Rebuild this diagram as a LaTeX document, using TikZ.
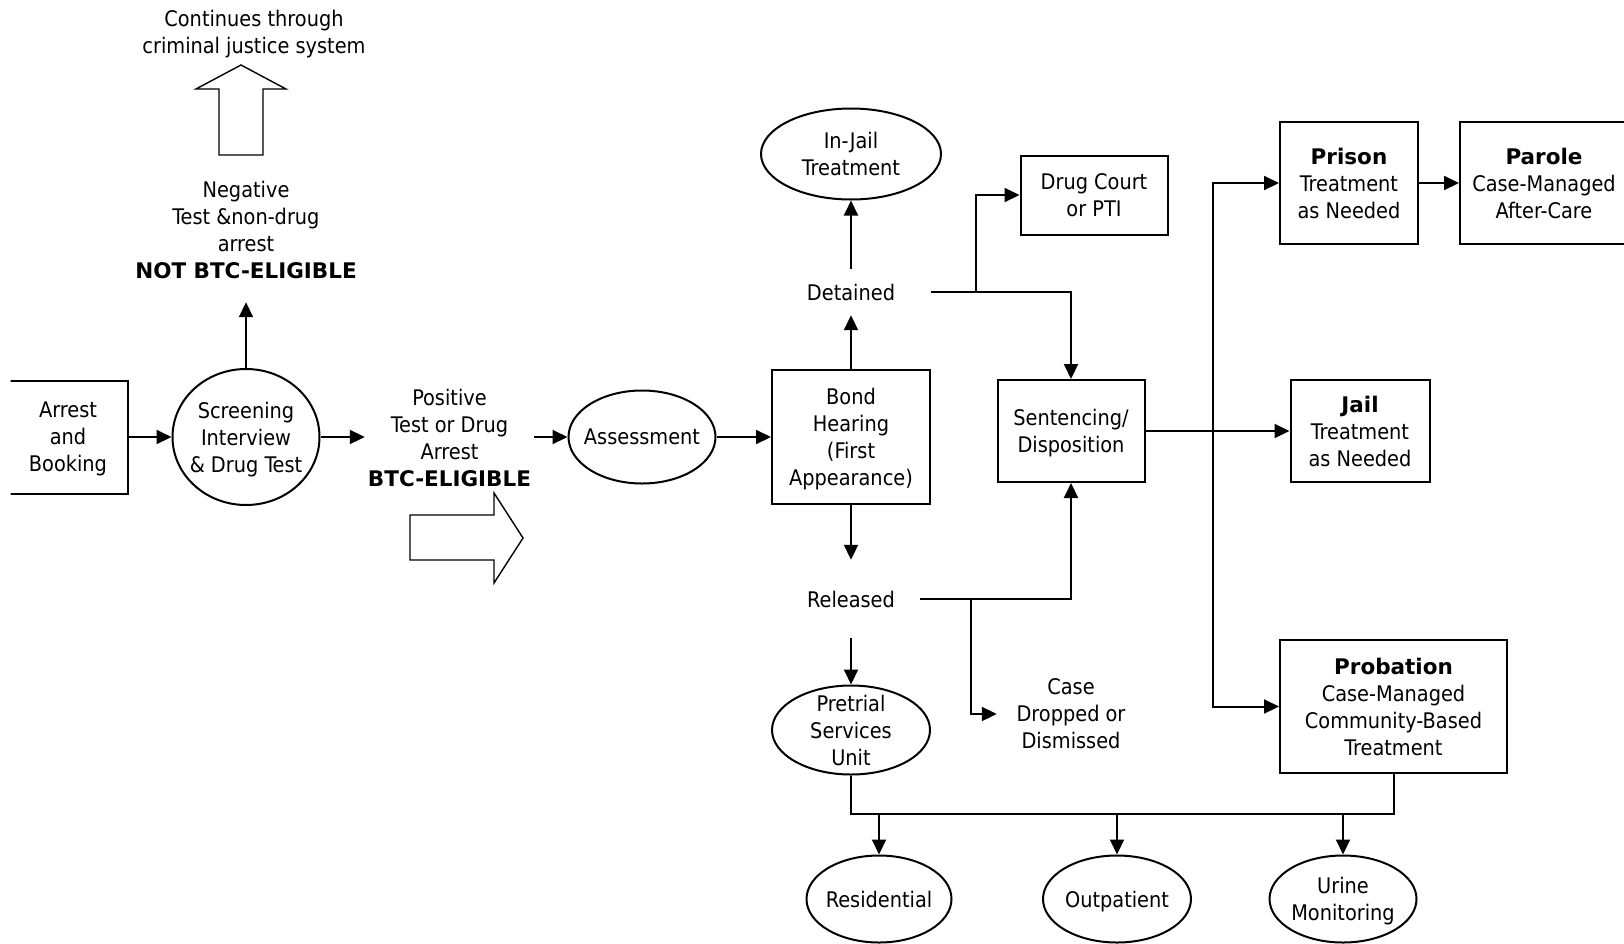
\documentclass[tikz,border=0pt]{standalone}
\usepackage{fontspec}
\setmainfont{DejaVu Sans Condensed}[BoldFont={DejaVu Sans Bold}]
\usepackage{tikz}
\usetikzlibrary{arrows.meta,positioning,calc,shapes.geometric}
\tikzset{
  >={Triangle[length=15pt,width=14pt]},
  box/.style={draw, line width=2pt, rectangle, align=center, inner sep=0pt, text depth=-1pt},
  oval/.style={draw, line width=2pt, ellipse, inner sep=0pt, label={[align=center, text depth=-1pt]center:#1}},
  note/.style={align=center, inner sep=0pt, text depth=-1pt},
  conn/.style={->, line width=2pt},
  wire/.style={line width=2pt},
  fatarrow/.style={draw, line width=1.4pt, line join=miter},
}

\begin{document}
\begin{tikzpicture}[x=1pt, y=-1pt, font=\fontsize{21.5}{27}\selectfont]
  \useasboundingbox (0,0) rectangle (1624,943);
  \clip (10.5,0) rectangle (1624,943);
  % nodes
  \node[box, minimum width=120pt, minimum height=113pt] (arrest) at (68,437) {Arrest\\and\\Booking};
  \node[oval={Screening\\Interview\\\& Drug Test}, minimum width=147pt, minimum height=136pt] (screen) at (246,437) {};
  \node[note, minimum width=169pt] (positive) at (449.5,438) {Positive\\Test or Drug\\Arrest\\\textbf{BTC-ELIGIBLE}};
  \node[note, minimum height=144pt] (negative) at (246,230) {Negative\\Test \&non-drug\\arrest\\\textbf{NOT BTC-ELIGIBLE}};
  \node[note] (continues) at (254,32) {Continues through\\criminal justice system};
  \node[oval=Assessment, minimum width=147pt, minimum height=93pt] (assess) at (642,437) {};
  \node[box, minimum width=158pt, minimum height=134pt] (bond) at (851,437) {Bond\\Hearing\\(First\\Appearance)};
  \node[note, minimum width=160pt, minimum height=46pt] (detained) at (851,292) {Detained};
  \node[oval={In-Jail\\Treatment}, minimum width=180pt, minimum height=91pt] (injail) at (851,154) {};
  \node[note, minimum width=138pt, minimum height=78pt] (released) at (851,599) {Released};
  \node[oval={Pretrial\\Services\\Unit}, minimum width=158pt, minimum height=89pt] (pretrial) at (851,730) {};
  \node[box, minimum width=147pt, minimum height=79pt] (drugcourt) at (1094,195) {Drug Court\\or PTI};
  \node[box, minimum width=147pt, minimum height=102pt] (sentencing) at (1071,431) {Sentencing/\\Disposition};
  \node[note, minimum width=148pt] (dropped) at (1071,714) {Case\\Dropped or\\Dismissed};
  \node[box, minimum width=138pt, minimum height=122pt] (prison) at (1349,183) {\textbf{Prison}\\Treatment\\as Needed};
  \node[box, minimum width=168pt, minimum height=122pt] (parole) at (1544,183) {\textbf{Parole}\\Case-Managed\\After-Care};
  \node[box, minimum width=139pt, minimum height=102pt] (jail) at (1360,431) {\textbf{Jail}\\Treatment\\as Needed};
  \node[box, minimum width=227pt, minimum height=133pt] (probation) at (1393.5,706.5) {\textbf{Probation}\\Case-Managed\\Community-Based\\Treatment};
  \node[oval=Residential, minimum width=145pt, minimum height=87pt] (residential) at (879,899) {};
  \node[oval=Outpatient, minimum width=148pt, minimum height=87pt] (outpatient) at (1117,899) {};
  \node[oval={Urine\\Monitoring}, minimum width=147pt, minimum height=87pt] (urine) at (1343,899) {};
  \coordinate (bus) at (851,814);

  % hollow arrows
  \draw[fatarrow] (219,155) -- (219,89) -- (196,89) -- (241,65) -- (286,89) -- (263,89) -- (263,155) -- cycle;
  \draw[fatarrow] (410,515) -- (494,515) -- (494,493) -- (523,538) -- (494,583) -- (494,560) -- (410,560) -- cycle;

  % connections
  \draw[conn] (arrest) -- (screen);
  \draw[conn] (screen) -- (positive.west |- screen);
  \draw[conn] (positive.east |- assess) -- (assess);
  \draw[conn] (assess) -- (bond);
  \draw[conn] (screen) -- (negative);
  \draw[conn] (bond) -- (detained);
  \draw[conn] (detained) -- (injail);
  \draw[conn] (bond) -- (released);
  \draw[conn] (released) -- (pretrial);

  % detained / released branches
  \draw[conn] (detained.east) -| coordinate[pos=0.16] (dtap) (sentencing.north);
  \draw[conn] (dtap) |- (drugcourt.west);
  \draw[conn] (released.east) -| coordinate[pos=0.17] (rtap) (sentencing.south);
  \draw[conn] (rtap) |- (dropped.west);

  % sentencing outcomes
  \draw[conn] (sentencing) -- coordinate[pos=0.47] (stap) (jail);
  \draw[conn] (stap) |- (prison.west);
  \draw[conn] (stap) |- (probation.west);
  \draw[conn] (prison) -- (parole);

  % treatment services
  \draw[wire] (pretrial.south) -- (bus) -| (probation.south);
  \draw[conn] (residential.north |- bus) -- (residential);
  \draw[conn] (outpatient.north |- bus) -- (outpatient);
  \draw[conn] (urine.north |- bus) -- (urine);
\end{tikzpicture}
\end{document}
